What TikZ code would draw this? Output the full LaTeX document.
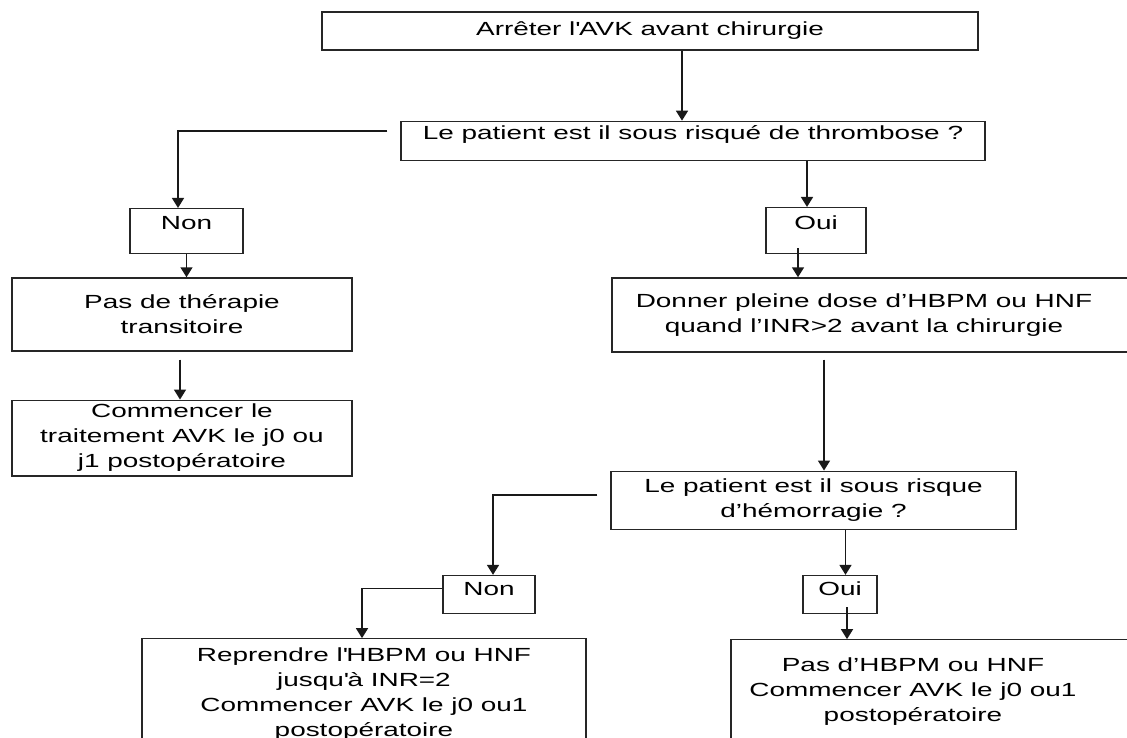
\documentclass[tikz,border=0pt]{standalone}
\usepackage{fontspec}
\setmainfont{Liberation Sans}[FakeStretch=1.47]
\usetikzlibrary{positioning,arrows.meta}

\begin{document}
\begin{tikzpicture}[
  x=1pt, y=1pt,
  every node/.style={font=\fontsize{19}{25}\selectfont},
  box/.style={draw=black!85, line width=1.3pt, inner sep=4pt, align=center},
  arr/.style={-{Triangle[length=10pt,width=12pt]}, line width=1.6pt, black!90}
]
\useasboundingbox (0,0) rectangle (1127,-738);

% ---------------- top: stop AVK, thrombosis question ----------------
\node[box, minimum width=656pt, minimum height=38pt] (stop) at (650,-31) {Arrêter l\textquotesingle AVK avant chirurgie};

\node[box, below=70pt of stop, xshift=43pt, minimum width=584pt, text height=14pt, text depth=17pt] (thromb) {Le patient est il sous risqué de thrombose ?};

% ---------------- left branch: no thrombosis risk ----------------
\node[box, below=47pt of thromb, xshift=-506.5pt, minimum width=113pt, text height=17pt, text depth=20pt] (non1) {Non};

\node[box, below=23pt of non1, xshift=-4.5pt, minimum width=340pt, minimum height=73pt] (pasther) {Pas de thérapie\\transitoire};

\node[box, below=48pt of pasther, minimum width=340pt, minimum height=73pt] (commavk) {Commencer le\\traitement AVK le j0 ou\\j1 postopératoire};

% ---------------- right branch: thrombosis risk ----------------
\node[box, below=46pt of thromb, xshift=123pt, minimum width=100pt, text height=18pt, text depth=20pt] (oui1) {Oui};

\node[box, below=23pt of oui1, xshift=60pt, minimum width=528pt, minimum height=74pt,
  label={[xshift=-12pt, align=center]center:Donner pleine dose d’HBPM ou HNF\\quand l’INR>2 avant la chirurgie}] (donner) {};

\node[box, below=118pt of donner, xshift=-62.5pt, minimum width=405pt, minimum height=58pt] (hemor) {Le patient est il sous risque\\d’hémorragie ?};

% ---------------- bleeding risk: no / yes ----------------
\node[box, below=45pt of hemor, xshift=-324.5pt, minimum width=92pt, text height=16pt, text depth=14pt] (non2) {Non};

\node[box, below=45pt of hemor, xshift=26.5pt, minimum width=74pt, text height=16pt, text depth=14pt] (oui2) {Oui};

\node[box, below=24pt of non2, xshift=-125pt, minimum width=444pt, minimum height=110pt] (reprendre) {Reprendre l\textquotesingle HBPM ou HNF\\jusqu\textquotesingle à INR=2\\Commencer AVK le j0 ou1\\postopératoire};

\node[box, below=25pt of oui2, xshift=95.5pt, minimum width=409pt, minimum height=104pt,
  label={[xshift=-22.5pt, align=center]center:Pas d’HBPM ou HNF\\Commencer AVK le j0 ou1\\postopératoire}] (pasdhbpm) {};

% ---------------- arrows ----------------
\draw[arr] ([xshift=32pt]stop.south) -- ([xshift=-11pt]thromb.north);
\draw[arr] ([xshift=-13pt,yshift=9.5pt]thromb.west) -| ([xshift=-8.5pt]non1.north);
\draw[arr] ([xshift=114pt]thromb.south) -- ([xshift=-9pt]oui1.north);
\draw[arr] (non1.south) -- ([xshift=4.5pt]pasther.north);
\draw[arr] ([xshift=-2pt,yshift=-8pt]pasther.south) -- ([xshift=-2pt]commavk.north);
\draw[arr] ([xshift=-18pt,yshift=6pt]oui1.south) -- ([xshift=-78pt]donner.north);
\draw[arr] ([xshift=-52pt,yshift=-7pt]donner.south) -- ([xshift=10.5pt]hemor.north);
\draw[arr] ([xshift=-13pt,yshift=5pt]hemor.west) -| ([xshift=4pt]non2.north);
\draw[arr] ([xshift=32pt]hemor.south) -- ([xshift=5.5pt]oui2.north);
\draw[arr] ([yshift=6pt]non2.west) -| ([xshift=-2pt]reprendre.north);
\draw[arr] ([xshift=7pt,yshift=7pt]oui2.south) -- ([xshift=-88.5pt]pasdhbpm.north);

\end{tikzpicture}
\end{document}
